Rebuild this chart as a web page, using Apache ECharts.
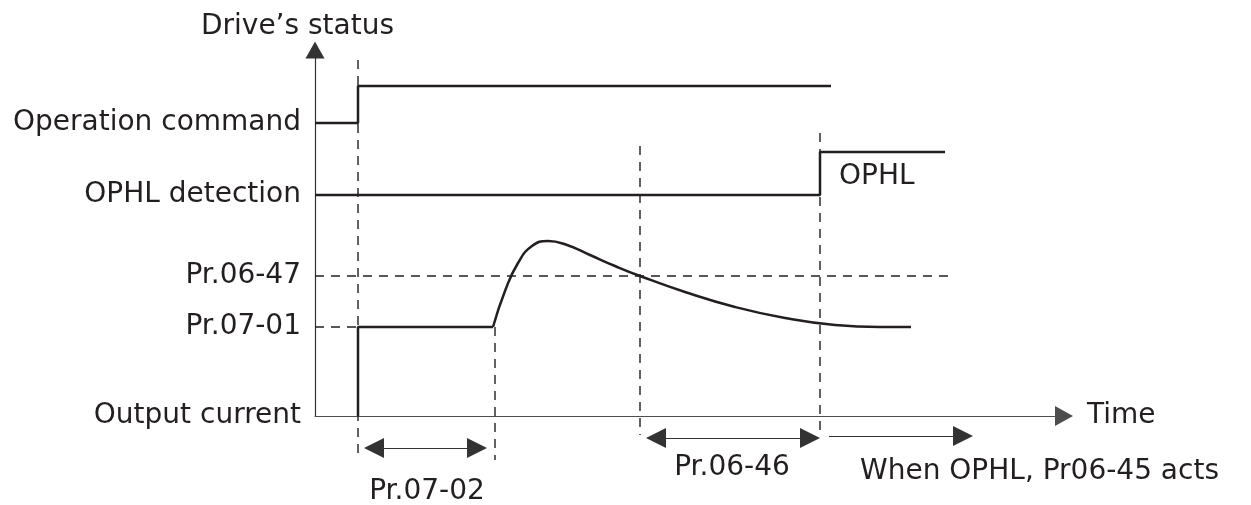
<!DOCTYPE html>
<html>
<head>
<meta charset="utf-8">
<script src="https://cdn.jsdelivr.net/npm/echarts@6/dist/echarts.min.js"></script>
<style>
html, body { margin: 0; padding: 0; background: #fff; }
#chart { width: 1251px; height: 505px; }
</style>
</head>
<body>
<div id="chart"></div>
<script>
// time runs along x, signal level along y (same units for every lane)
const laneNames = ['Output current', 'Pr.07-01', 'Pr.06-47', 'OPHL detection', 'Operation command']
const laneLevels = [0, 89, 140, 221, 293]

const opCmdT = [0, 43, 43, 516]
const opCmdV = [293, 293, 330, 330]

const ophlT = [0, 505, 505, 630]
const ophlV = [221, 221, 264, 264]

const currentStepT = [43, 43, 178]
const currentStepV = [0, 89, 89]
const currentCurveT = [178, 190, 203, 217, 233, 252, 275, 300, 325, 370, 420, 470, 520, 565]
const currentCurveV = [89, 125, 153, 170, 175, 171, 161, 150, 140, 124, 109, 98, 91, 89]
const currentTailT = [565, 596]
const currentTailV = [89, 89]

// dashed guides: [t0, v0, t1, v1]
const guideLines = [
  [43, 356, 43, -44],
  [180, 89, 180, -44],
  [325, 270, 325, -19],
  [505, 283, 505, -19],
  [0, 140, 633, 140],
  [0, 89, 43, 89]
]

// interval arrows: [tStart, tEnd, level]
const doubleArrows = [
  [59, 162, -32],
  [341, 495, -22]
]
const singleArrows = [
  [514, 648, -20]
]

// annotations: [t, v, text, align]
const notes = [
  [112, -76, 'Pr.07-02', 'center'],
  [417, -52, 'Pr.06-46', 'center'],
  [545, -56, 'When OPHL, Pr06-45 acts', 'left'],
  [524, 239, 'OPHL', 'left']
]

const ink = '#231f20'
const font = 'DejaVu Sans'

function pairs(t, v) {
  return t.map((x, i) => [x, v[i]])
}

function signal(t, v, smooth) {
  return {
    type: 'line',
    data: pairs(t, v),
    symbol: 'none',
    smooth: smooth ? 0.5 : false,
    clip: false,
    silent: true,
    lineStyle: { color: ink, width: 2.5 }
  }
}

function arrows(list, heads) {
  return {
    type: 'lines',
    coordinateSystem: 'cartesian2d',
    clip: false,
    silent: true,
    symbol: heads,
    symbolSize: 20,
    lineStyle: { color: '#333', width: 1.2, opacity: 1 },
    data: list.map(a => ({ coords: [[a[0], a[2]], [a[1], a[2]]] }))
  }
}

const series = [
  signal(opCmdT, opCmdV),
  signal(ophlT, ophlV),
  signal(currentStepT, currentStepV),
  signal(currentCurveT, currentCurveV, true),
  signal(currentTailT, currentTailV)
]

guideLines.forEach(g => {
  series.push({
    type: 'line',
    data: [[g[0], g[1]], [g[2], g[3]]],
    symbol: 'none',
    clip: false,
    silent: true,
    z: 1,
    lineStyle: { color: ink, width: 1.4, type: [9, 7] }
  })
})

series.push(arrows(doubleArrows, ['triangle', 'triangle']))
series.push(arrows(singleArrows, ['none', 'triangle']))

series.push({
  type: 'scatter',
  symbolSize: 0,
  clip: false,
  silent: true,
  itemStyle: { opacity: 1 },
  data: notes.map(n => ({
    value: [n[0], n[1]],
    label: {
      show: true,
      formatter: n[2],
      position: n[3] === 'center' ? 'inside' : 'right',
      distance: 0,
      color: ink,
      opacity: 1,
      fontFamily: font,
      fontSize: 28
    }
  }))
})

const chart = echarts.init(document.getElementById('chart'))
chart.setOption({
  animation: false,
  backgroundColor: '#fff',
  grid: { left: 315, right: 187, top: 50, bottom: 89 },
  xAxis: {
    type: 'value',
    min: 0,
    max: 749,
    name: 'Time',
    nameLocation: 'end',
    nameGap: 23,
    nameTextStyle: { color: ink, fontFamily: font, fontSize: 28, align: 'left', verticalAlign: 'middle' },
    splitLine: { show: false },
    axisTick: { show: false },
    axisLabel: { show: false },
    axisLine: {
      onZero: false,
      symbol: ['none', 'triangle'],
      symbolSize: [20, 18],
      lineStyle: { color: '#4d4d4d', width: 1.2 }
    }
  },
  yAxis: {
    type: 'value',
    min: 0,
    max: 366,
    name: "Drive\u2019s status",
    nameLocation: 'end',
    nameGap: 9,
    nameTextStyle: { color: ink, fontFamily: font, fontSize: 28, align: 'center', padding: [0, 35, 0, 0] },
    splitLine: { show: false },
    axisTick: { show: false },
    axisLabel: {
      customValues: laneLevels,
      formatter: v => laneNames[laneLevels.indexOf(v)],
      margin: 14,
      color: ink,
      fontFamily: font,
      fontSize: 28
    },
    axisLine: {
      symbol: ['none', 'triangle'],
      symbolSize: [19, 17],
      lineStyle: { color: '#333', width: 1.2 }
    }
  },
  series: series
})
</script>
</body>
</html>
